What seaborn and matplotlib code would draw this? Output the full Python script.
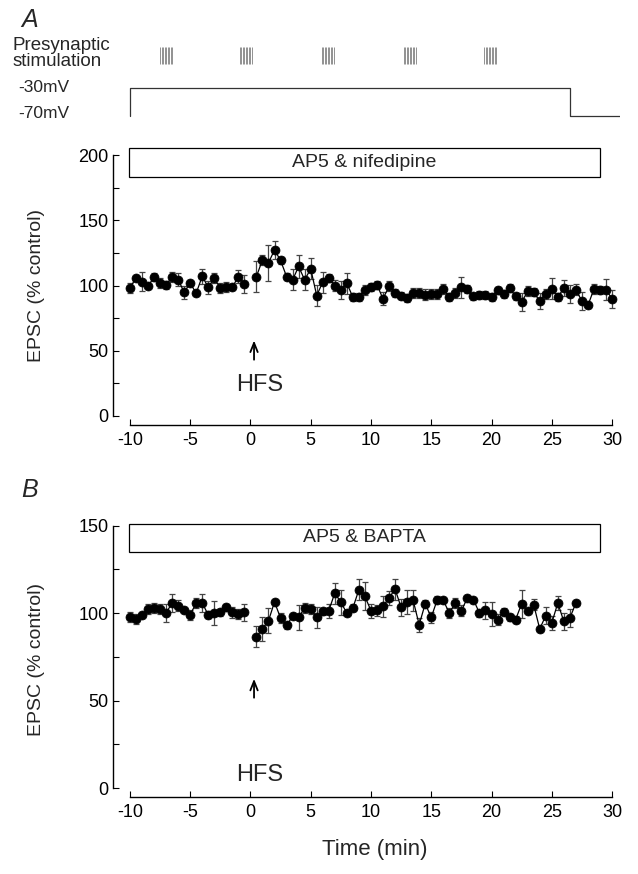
import numpy as np
import pandas as pd
import seaborn as sns
import matplotlib.pyplot as plt
from matplotlib.patches import Rectangle
from matplotlib.ticker import MultipleLocator

# time grid (min): HFS at 0, no sample during the tetanus
pre_t = np.arange(-10, 0, 0.5)
post_t_a = np.arange(0.5, 30.5, 0.5)
post_t_b = np.arange(0.5, 27.5, 0.5)

# panel A: AP5 & nifedipine (EPSC, % control)
a_pre = [98.2, 105.6, 103, 99.5, 106.4, 101.8, 100.5, 106.4, 104.6, 94.9,
         101.8, 94.1, 107, 98.7, 105.6, 98, 98.7, 98.7, 106.9, 101.3]
a_pre_err = [4, 2, 7, 1, 3, 4, 3, 4, 5, 5, 2, 1, 6, 5, 4, 4, 4, 2, 5, 7]
a_post = [106.9, 119.7, 117.4, 127.3, 119.2, 106.9, 104.3, 114.6, 104.3, 112.8,
          92.3, 102.6, 105.9, 100, 96.7, 101.8, 91, 91, 96.7, 98.7,
          100.5, 89.8, 99.5, 94.4, 92.3, 90.3, 94.4, 94.4, 93.1, 93.6,
          93.6, 97.4, 91.1, 94.4, 98.7, 97.4, 91.6, 92.8, 92.8, 91.1,
          96.2, 93.6, 98, 91.6, 87.2, 95.7, 94.9, 88, 93.6, 97.4,
          91.1, 98, 93.6, 96.9, 88, 84.7, 97.4, 96.7, 96.9, 89.8]
a_post_err = [12, 4, 14, 7, 3, 3, 8, 9, 8, 8,
              8, 8, 3, 4, 7, 8, 3, 3, 4, 3,
              3, 5, 4, 3, 3, 3, 4, 4, 4, 4,
              4, 4, 3, 4, 8, 3, 3, 3, 3, 3,
              3, 3, 3, 3, 7, 4, 3, 6, 4, 8,
              3, 6, 7, 4, 7, 2, 4, 3, 8, 7]

# panel B: AP5 & BAPTA
b_pre = [97.7, 96.6, 99, 102.3, 102.9, 102.3, 100, 105.7, 104.2, 101.9,
         99, 105.7, 105.7, 99, 100, 100.4, 103.2, 100.4, 99.4, 100.4]
b_pre_err = [3, 3, 1, 3, 3, 3, 5, 5, 3, 1, 3, 3, 5, 2, 7, 2, 2, 3, 3, 5]
b_post = [86.3, 91, 95.6, 106.3, 97.1, 93, 98.1, 97.5, 102.9, 102.3,
          97.7, 101, 101.3, 111.4, 106.1, 100, 102.9, 113.3, 109.5, 101.3,
          101.5, 103.8, 108.6, 113.7, 103.2, 106.3, 107.2, 93.3, 105.3, 97.5,
          107.6, 107.2, 100, 105.7, 101.3, 108.6, 107.6, 100, 101.5, 99.4,
          96.2, 100.6, 97.7, 96.2, 105.3, 101, 104.8, 90.9, 98.5, 94.3,
          105.7, 95.2, 97.1, 105.7]
b_post_err = [6, 7, 7, 1, 3, 2, 1, 7, 3, 3,
              6, 2, 4, 6, 7, 1, 2, 6, 8, 4,
              3, 6, 4, 6, 5, 7, 6, 4, 2, 3,
              2, 1, 3, 3, 3, 1, 1, 2, 5, 7,
              3, 2, 2, 2, 8, 1, 3, 1, 5, 4,
              4, 5, 5, 1]

# protocol strip
burst_starts = [-7.5, -0.9, 5.9, 12.7, 19.4]
pulses_per_burst = 9
step_t = [-10, -10, 26.5, 26.5, 30.7]
step_v = [-70, -30, -30, -70, -70]


def make_df(pre, pre_err, post_t, post, post_err):
    d1 = pd.DataFrame({'t': pre_t, 'v': pre, 'err': pre_err, 'seg': 'pre'})
    d2 = pd.DataFrame({'t': post_t, 'v': post, 'err': post_err, 'seg': 'post'})
    return pd.concat([d1, d2], ignore_index=True)


df_a = make_df(a_pre, a_pre_err, post_t_a, a_post, a_post_err)
df_b = make_df(b_pre, b_pre_err, post_t_b, b_post, b_post_err)

sns.set_theme(style='ticks')
plt.rcParams['font.family'] = ['Liberation Sans', 'DejaVu Sans']
plt.rcParams['axes.unicode_minus'] = False

W, H = 638, 874
fig = plt.figure(figsize=(W / 100, H / 100), dpi=100)


def px_axes(left, top, right, bottom):
    return fig.add_axes([left / W, 1 - bottom / H, (right - left) / W, (bottom - top) / H])


XLIM = (-11.4, 30.66)


def draw_panel(ax, df, ymax_axis, ylim, box_y, box_label, arrow_y, hfs_y):
    ax.errorbar(df['t'], df['v'], yerr=df['err'], fmt='none', ecolor='#444444',
                elinewidth=0.9, capsize=2.5, capthick=0.9, zorder=2)
    sns.lineplot(data=df, x='t', y='v', units='seg', estimator=None, sort=False,
                 color='black', lw=0.9, marker='o', markersize=6.5,
                 markeredgecolor='black', markeredgewidth=0.5, ax=ax, zorder=3)
    ax.set_xlim(*XLIM)
    ax.set_ylim(*ylim)
    ax.set_xlabel('')
    ax.set_ylabel('')
    sns.despine(ax=ax)
    ax.spines['left'].set_bounds(0, ymax_axis)
    ax.spines['bottom'].set_bounds(-10, 30)
    for s in ('left', 'bottom'):
        ax.spines[s].set_linewidth(1.0)
        ax.spines[s].set_color('black')
    ax.set_xticks(range(-10, 31, 5))
    ax.set_yticks(range(0, ymax_axis + 1, 50))
    ax.yaxis.set_minor_locator(MultipleLocator(25))
    ax.tick_params(which='both', direction='in', length=4, width=0.8,
                   labelsize=13, colors='black')
    ax.tick_params(axis='y', pad=3)
    ax.tick_params(axis='x', pad=5)
    ax.add_patch(Rectangle((-10.1, box_y[0]), 39.1, box_y[1] - box_y[0],
                           fill=False, edgecolor='black', lw=0.9, clip_on=False))
    ax.text(9.45, (box_y[0] + box_y[1]) / 2, box_label, ha='center', va='center',
            fontsize=14)
    ax.annotate('', xy=(0.3, arrow_y[1]), xytext=(0.3, arrow_y[0]),
                arrowprops=dict(arrowstyle='->,head_length=0.55,head_width=0.22',
                                color='black', lw=1.3))
    ax.text(0.8, hfs_y, 'HFS', ha='center', va='center', fontsize=17)


ax_a = px_axes(113, 145.9, 620, 425)
draw_panel(ax_a, df_a, 200, (-6.9, 207), (183, 205.4), 'AP5 & nifedipine',
           (41, 60), 23.8)

ax_b = px_axes(113, 522, 620, 797)
draw_panel(ax_b, df_b, 150, (-5.14, 152), (135, 150.9), 'AP5 & BAPTA',
           (50, 64), 7.4)

# protocol strip above panel A
ax_top = px_axes(113, 40, 620, 120)
ax_top.set_xlim(*XLIM)
ax_top.set_ylim(-75.7, 38.6)
ax_top.axis('off')
sns.lineplot(x=step_t, y=step_v, sort=False, estimator=None, color='#333333',
             lw=0.9, ax=ax_top)
for b in burst_starts:
    ax_top.vlines(np.linspace(b, b + 1, pulses_per_burst), 4.3, 28.6,
                  color='#555555', lw=0.45)

fig.text(21 / W, 1 - 20 / H, 'A', fontsize=18, style='italic', ha='left', va='center')
fig.text(21 / W, 1 - 490 / H, 'B', fontsize=18, style='italic', ha='left', va='center')
fig.text(13 / W, 1 - 45 / H, 'Presynaptic', fontsize=13.5, ha='left', va='center')
fig.text(13 / W, 1 - 62 / H, 'stimulation', fontsize=13.5, ha='left', va='center')
fig.text(18 / W, 1 - 87 / H, '-30mV', fontsize=12.5, ha='left', va='center')
fig.text(18 / W, 1 - 113 / H, '-70mV', fontsize=12.5, ha='left', va='center')
fig.text(37 / W, 1 - 285 / H, 'EPSC (% control)', fontsize=14, rotation=90,
         ha='center', va='center')
fig.text(37 / W, 1 - 660 / H, 'EPSC (% control)', fontsize=14, rotation=90,
         ha='center', va='center')
fig.text(375 / W, 1 - 850 / H, 'Time (min)', fontsize=16, ha='center', va='center')

fig.savefig('out.png', dpi=100)
